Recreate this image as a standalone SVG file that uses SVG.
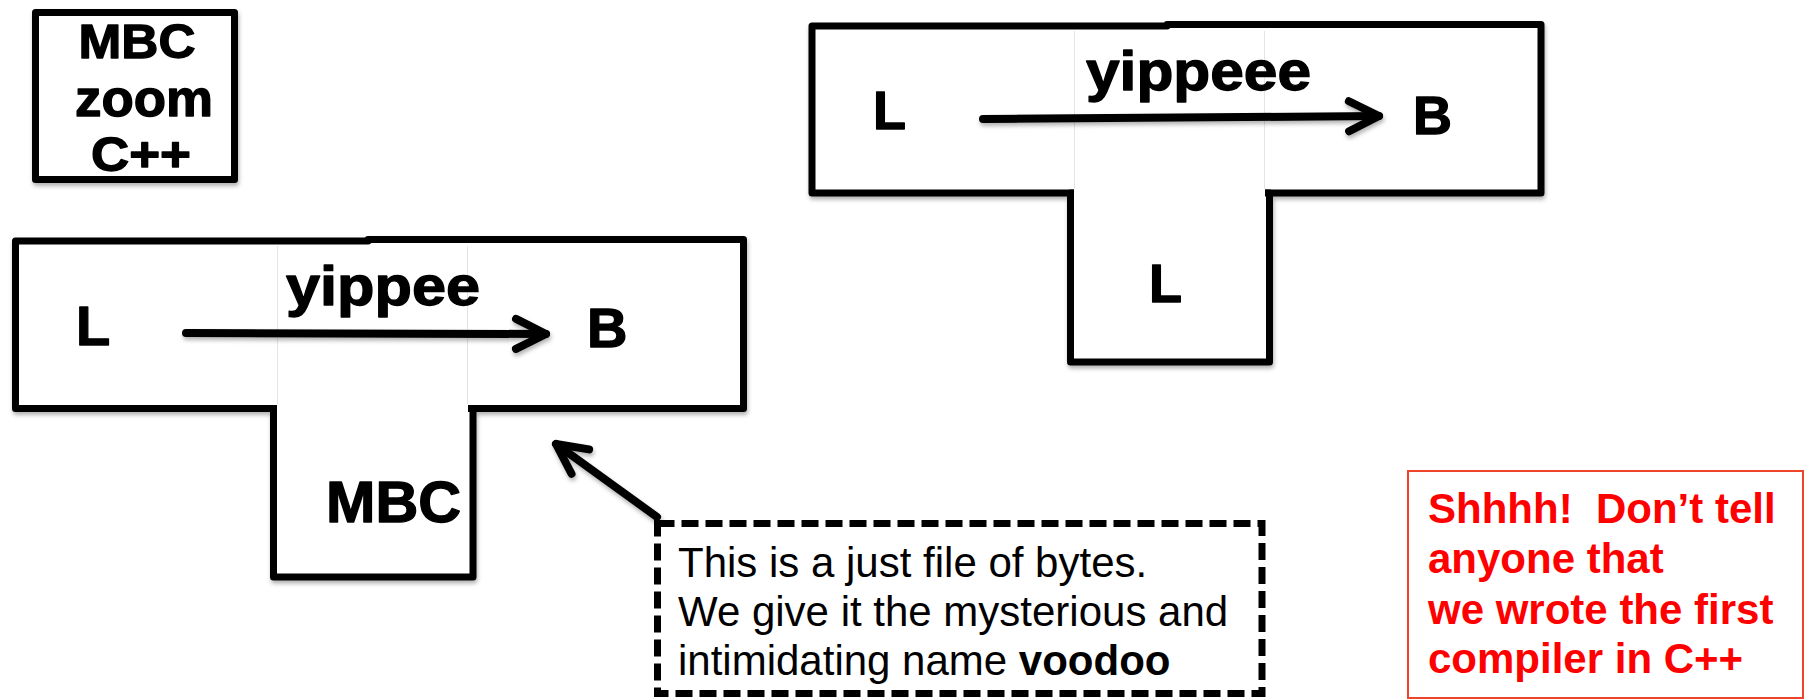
<svg xmlns="http://www.w3.org/2000/svg" width="1805" height="700" viewBox="0 0 1805 700">
  <defs>
    <style>
      .frame { fill: #ffffff; stroke: #000000; stroke-width: 7; stroke-linejoin: round; }
      .patch { fill: #ffffff; stroke: none; }
      .seam { stroke: #e4e4e4; stroke-width: 1; }
      .bold { font-family: "Liberation Sans", Arial, Helvetica, sans-serif; font-weight: bold; fill: #000000; stroke: #000000; stroke-width: 1.3; stroke-linejoin: round; }
      .mid { text-anchor: middle; }
      .plain { font-family: "Liberation Sans", Arial, Helvetica, sans-serif; font-size: 42px; fill: #000000; }
      .secret { font-family: "Liberation Sans", Arial, Helvetica, sans-serif; font-weight: bold; font-size: 42px; fill: #ff0000; white-space: pre; }
      .conn { fill: none; stroke: #000000; stroke-width: 8; stroke-linecap: round; }
    </style>
    <filter id="shadow" x="-5%" y="-5%" width="110%" height="120%">
      <feDropShadow dx="1" dy="3" stdDeviation="2" flood-color="#000000" flood-opacity="0.3"/>
    </filter>
    <marker id="chev" markerUnits="userSpaceOnUse" viewBox="-40 -25 50 50" refX="0" refY="0" markerWidth="50" markerHeight="50" orient="auto">
      <path d="M-30,-15 L0,0 L-30,15" fill="none" stroke="#000000" stroke-width="8" stroke-linecap="round" stroke-linejoin="round"/>
    </marker>
  </defs>

  <rect width="1805" height="700" fill="#ffffff"/>

  <!-- small legend box -->
  <g id="node-legend">
    <rect class="frame" x="35.5" y="12.5" width="199" height="167" filter="url(#shadow)"/>
    <text class="bold mid" x="137" y="58" font-size="48" textLength="117" lengthAdjust="spacingAndGlyphs">MBC</text>
    <text class="bold mid" x="144" y="116" font-size="52" textLength="138" lengthAdjust="spacingAndGlyphs">zoom</text>
    <text class="bold mid" x="141" y="171" font-size="48" textLength="100" lengthAdjust="spacingAndGlyphs">C++</text>
  </g>

  <!-- lower-left T diagram -->
  <g id="node-t-left">
    <g filter="url(#shadow)">
      <path class="frame" d="M15.5,408.5 V241 H368 V239.5 H743.5 V408.5 Z"/>
      <rect class="frame" x="273.5" y="408.5" width="199.5" height="168.5"/>
    </g>
    <rect class="patch" x="277" y="246" width="191" height="167"/>
    <path class="seam" d="M277.5,246 V404 M467.5,246 V404"/>
    <text class="bold" x="76" y="345" font-size="56">L</text>
    <text class="bold" x="286" y="305" font-size="56" textLength="194" lengthAdjust="spacingAndGlyphs">yippee</text>
    <text class="bold" x="587" y="347" font-size="56">B</text>
    <text class="bold" x="326" y="522" font-size="57" textLength="135" lengthAdjust="spacingAndGlyphs">MBC</text>
  </g>

  <!-- upper-right T diagram -->
  <g id="node-t-right">
    <g filter="url(#shadow)">
      <path class="frame" d="M812,193 V26 H1167 V24.5 H1541 V193 Z"/>
      <rect class="frame" x="1070.5" y="193" width="199" height="169"/>
    </g>
    <rect class="patch" x="1074" y="31" width="191" height="166"/>
    <path class="seam" d="M1074.5,31 V189 M1264.5,31 V189"/>
    <text class="bold" x="873" y="129" font-size="54">L</text>
    <text class="bold" x="1086" y="90" font-size="56" textLength="225" lengthAdjust="spacingAndGlyphs">yippeee</text>
    <text class="bold" x="1413" y="134" font-size="54">B</text>
    <text class="bold" x="1149" y="302" font-size="54">L</text>
  </g>

  <!-- dashed note -->
  <g id="node-note">
    <rect x="657.5" y="523.5" width="604.5" height="170" fill="none" stroke="#000000" stroke-width="7" stroke-dasharray="17 7"/>
    <text class="plain" x="678" y="577">This is a just file of bytes.</text>
    <text class="plain" x="678" y="626">We give it the mysterious and</text>
    <text class="plain" x="678" y="675">intimidating name <tspan font-weight="bold">voodoo</tspan></text>
  </g>

  <!-- red aside -->
  <g id="node-secret">
    <rect x="1408" y="471" width="395" height="227" fill="#ffffff" stroke="#f0442a" stroke-width="2"/>
    <text class="secret" x="1428" y="523">Shhhh!  Don’t tell</text>
    <text class="secret" x="1428" y="573">anyone that</text>
    <text class="secret" x="1428" y="624">we wrote the first</text>
    <text class="secret" x="1428" y="673">compiler in C++</text>
  </g>

  <!-- connectors -->
  <g id="connectors" filter="url(#shadow)">
    <path class="conn" d="M186,333 L546,334" marker-end="url(#chev)"/>
    <path class="conn" d="M983,119 L1379,116" marker-end="url(#chev)"/>
    <path class="conn" d="M657,517 L556,444" marker-end="url(#chev)"/>
  </g>
</svg>
